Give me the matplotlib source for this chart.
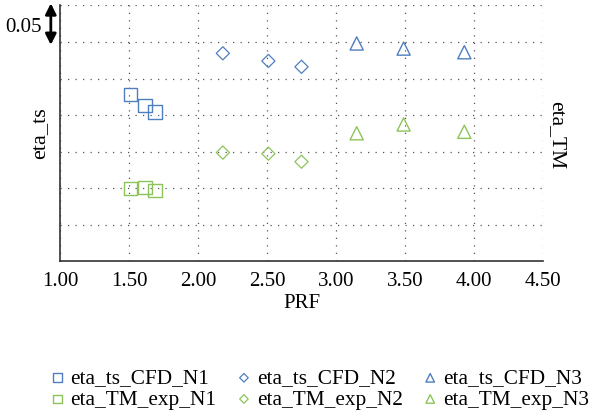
import numpy as np
import matplotlib
matplotlib.use("Agg")
import matplotlib.pyplot as plt

plt.rcParams['font.family'] = ['Liberation Serif', 'DejaVu Serif']

# data
prf_n1 = [1.51, 1.615, 1.69]
prf_n2 = [2.18, 2.51, 2.75]
prf_n3 = [3.15, 3.49, 3.93]

eta_ts_cfd_n1 = [0.228, 0.213, 0.204]
eta_ts_cfd_n2 = [0.2845, 0.274, 0.266]
eta_ts_cfd_n3 = [0.298, 0.291, 0.286]

eta_tm_exp_n1 = [0.099, 0.1005, 0.0965]
eta_tm_exp_n2 = [0.1485, 0.147, 0.136]
eta_tm_exp_n3 = [0.175, 0.187, 0.177]

xticks = [1.0, 1.5, 2.0, 2.5, 3.0, 3.5, 4.0, 4.5]

blue = '#4f7fbf'
green = '#8dc45a'

fig = plt.figure(figsize=(5.9, 4.15), dpi=100)
ax = fig.add_axes([60/590, 1-261/415, (543-60)/590, (261-5.5)/415])

ax.scatter(prf_n1, eta_ts_cfd_n1, marker='s', s=95, facecolors='none', edgecolors=blue, linewidths=1.0, label='eta_ts_CFD_N1', zorder=3)
ax.scatter(prf_n1, eta_tm_exp_n1, marker='s', s=95, facecolors='none', edgecolors=green, linewidths=1.0, label='eta_TM_exp_N1', zorder=3)
ax.scatter(prf_n2, eta_ts_cfd_n2, marker='D', s=45, facecolors='none', edgecolors=blue, linewidths=0.9, label='eta_ts_CFD_N2', zorder=3)
ax.scatter(prf_n2, eta_tm_exp_n2, marker='D', s=45, facecolors='none', edgecolors=green, linewidths=0.9, label='eta_TM_exp_N2', zorder=3)
ax.scatter(prf_n3, eta_ts_cfd_n3, marker='^', s=90, facecolors='none', edgecolors=blue, linewidths=1.0, label='eta_ts_CFD_N3', zorder=3)
ax.scatter(prf_n3, eta_tm_exp_n3, marker='^', s=90, facecolors='none', edgecolors=green, linewidths=1.0, label='eta_TM_exp_N3', zorder=3)

ax.set_xlim(1.0, 4.5)
ax.set_ylim(0.0, 0.35)
ax.set_xticks(xticks)
ax.set_xticklabels(['%.2f' % v for v in xticks], fontsize=15)
ax.set_yticks(np.arange(0.05, 0.36, 0.05))
ax.set_yticklabels([])
ax.tick_params(axis='both', length=0, pad=8)
ax.grid(True, linestyle=(0, (1, 5)), color='#555555', linewidth=0.9)
for s in ['top', 'right']:
    ax.spines[s].set_visible(False)
for s in ['left', 'bottom']:
    ax.spines[s].set_color('#333333')
    ax.spines[s].set_linewidth(1.2)

ax.set_xlabel('PRF', fontsize=15, labelpad=2)
ax.set_ylabel('eta_ts', fontsize=16, labelpad=0)
fig.text(557/590, 1-135/415, 'eta_TM', rotation=-90, fontsize=15.5, ha='center', va='center')

# scale arrow for one grid interval
ax.annotate('', xy=(-0.019, 0.353), xytext=(-0.019, 0.296), xycoords=('axes fraction', 'data'),
            textcoords=('axes fraction', 'data'), annotation_clip=False,
            arrowprops=dict(arrowstyle='<|-|>', color='black', lw=2.0, mutation_scale=16,
                            shrinkA=0, shrinkB=0))
fig.text(24/590, 1-27/415, '0.05', fontsize=15, ha='center', va='center')

handles, labels = ax.get_legend_handles_labels()
fig.legend(handles, labels, loc='center', bbox_to_anchor=(319/590, 1-389/415), ncol=3,
           frameon=False, fontsize=15.3, handletextpad=0.2, columnspacing=0.9,
           handlelength=0.8, labelspacing=0.06, markerscale=0.65)

fig.savefig('out.png', dpi=100)
